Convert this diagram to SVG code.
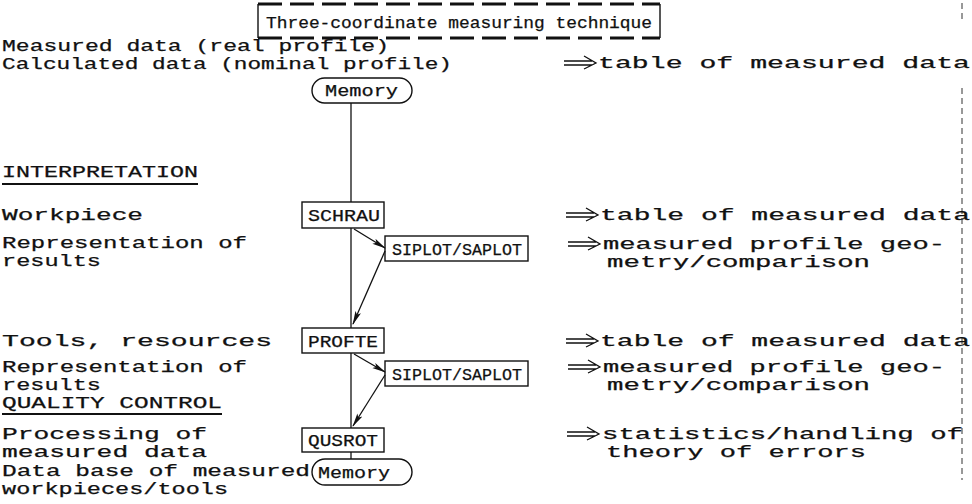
<svg xmlns="http://www.w3.org/2000/svg" width="972" height="504" viewBox="0 0 972 504">
<defs>
<style>
text{font-family:"Liberation Mono","DejaVu Sans Mono",monospace;font-size:16px;fill:#111;stroke:#111;stroke-width:0.25}
.sm{font-size:16px}
.ln{stroke:#111;stroke-width:1.3;fill:none}
.box{stroke:#111;stroke-width:1.4;fill:none}
.ul{stroke:#111;stroke-width:2;fill:none}
.dash{stroke:#111;stroke-width:3;stroke-dasharray:24 8;fill:none}
.rdash{stroke:#333;stroke-width:1;stroke-dasharray:6 4;fill:none}
.dbl{stroke:#111;stroke-width:1.3;fill:none}
</style>
<marker id="ah" viewBox="0 0 14 8" refX="13" refY="4" markerWidth="14" markerHeight="8" markerUnits="userSpaceOnUse" orient="auto">
<path d="M0,1 L14,4 L0,7 L3,4 Z" fill="#111"/>
</marker>
<g id="dblarrow">
<path class="dbl" d="M0,-2 H28 M0,2 H28 M20,-7 L32,0 L20,6"/>
</g>
</defs>
<rect width="972" height="504" fill="#fff"/>

<g id="title">
<path class="dash" d="M258,4 H660"/>
<path class="dash" d="M258,38 H660"/>
<path class="box" d="M258,4 V38 M660,4 V38"/>
<text class="sm" x="266" y="28" textLength="386" lengthAdjust="spacingAndGlyphs">Three-coordinate measuring technique</text>
</g>

<g id="frame-right">
<path class="rdash" d="M962,3 V20"/>
<path class="rdash" d="M962,88 V480"/>
</g>

<g id="left-labels">
<text x="2" y="51" textLength="387" lengthAdjust="spacingAndGlyphs">Measured data (real profile)</text>
<text x="2" y="69" textLength="450" lengthAdjust="spacingAndGlyphs">Calculated data (nominal profile)</text>
<text x="2" y="177" textLength="196" lengthAdjust="spacingAndGlyphs">INTERPRETATION</text>
<path class="ul" d="M2,184 H198"/>
<text x="2" y="220" textLength="141" lengthAdjust="spacingAndGlyphs">Workpiece</text>
<text x="2" y="248" textLength="245" lengthAdjust="spacingAndGlyphs">Representation of</text>
<text x="2" y="266" textLength="99" lengthAdjust="spacingAndGlyphs">results</text>
<text x="2" y="346" textLength="270" lengthAdjust="spacingAndGlyphs">Tools, resources</text>
<text x="2" y="372" textLength="245" lengthAdjust="spacingAndGlyphs">Representation of</text>
<text x="2" y="390" textLength="99" lengthAdjust="spacingAndGlyphs">results</text>
<text x="2" y="408" textLength="220" lengthAdjust="spacingAndGlyphs">QUALITY CONTROL</text>
<path class="ul" d="M2,414 H222"/>
<text x="2" y="439" textLength="205" lengthAdjust="spacingAndGlyphs">Processing of</text>
<text x="2" y="457" textLength="205" lengthAdjust="spacingAndGlyphs">measured data</text>
<text x="2" y="476" textLength="308" lengthAdjust="spacingAndGlyphs">Data base of measured</text>
<text x="2" y="494" textLength="226" lengthAdjust="spacingAndGlyphs">workpieces/tools</text>
</g>

<g id="memory-top">
<rect class="box" x="312" y="78" width="100" height="25" rx="12.5"/>
<text x="325" y="96" textLength="73" lengthAdjust="spacingAndGlyphs">Memory</text>
</g>

<g id="schrau">
<rect class="box" x="302" y="202" width="82" height="26"/>
<text x="308" y="221" textLength="72" lengthAdjust="spacingAndGlyphs">SCHRAU</text>
</g>

<g id="siplot1">
<rect class="box" x="385" y="236" width="143" height="25"/>
<text x="392" y="255" textLength="130" lengthAdjust="spacingAndGlyphs">SIPLOT/SAPLOT</text>
</g>

<g id="profte">
<rect class="box" x="302" y="328" width="82" height="25"/>
<text x="308" y="347" textLength="70" lengthAdjust="spacingAndGlyphs">PROFTE</text>
</g>

<g id="siplot2">
<rect class="box" x="385" y="361" width="143" height="25"/>
<text x="392" y="380" textLength="130" lengthAdjust="spacingAndGlyphs">SIPLOT/SAPLOT</text>
</g>

<g id="qusrot">
<rect class="box" x="302" y="428" width="82" height="24"/>
<text x="308" y="446" textLength="70" lengthAdjust="spacingAndGlyphs">QUSROT</text>
</g>

<g id="memory-bottom">
<rect class="box" x="312" y="459" width="100" height="26" rx="13"/>
<text x="318" y="478" textLength="72" lengthAdjust="spacingAndGlyphs">Memory</text>
</g>

<g id="connectors">
<path class="ln" d="M351,103 V202"/>
<path class="ln" d="M351,228 V328"/>
<path class="ln" d="M354,229 L385,248" marker-end="url(#ah)"/>
<path class="ln" d="M385,251 L353,324" marker-end="url(#ah)"/>
<path class="ln" d="M351,353 V428"/>
<path class="ln" d="M354,354 L385,372" marker-end="url(#ah)"/>
<path class="ln" d="M385,375 L353,426" marker-end="url(#ah)"/>
<path class="ln" d="M351,452 V459"/>
</g>

<g id="right-labels">
<use href="#dblarrow" x="564" y="63"/>
<text x="598" y="68" textLength="372" lengthAdjust="spacingAndGlyphs">table of measured data</text>
<use href="#dblarrow" x="566" y="215"/>
<text x="600" y="220" textLength="370" lengthAdjust="spacingAndGlyphs">table of measured data</text>
<use href="#dblarrow" x="568" y="244"/>
<text x="603" y="249" textLength="342" lengthAdjust="spacingAndGlyphs">measured profile geo-</text>
<text x="607" y="267" textLength="263" lengthAdjust="spacingAndGlyphs">metry/comparison</text>
<use href="#dblarrow" x="566" y="341"/>
<text x="600" y="346" textLength="370" lengthAdjust="spacingAndGlyphs">table of measured data</text>
<use href="#dblarrow" x="568" y="367"/>
<text x="603" y="372" textLength="342" lengthAdjust="spacingAndGlyphs">measured profile geo-</text>
<text x="607" y="390" textLength="263" lengthAdjust="spacingAndGlyphs">metry/comparison</text>
<use href="#dblarrow" x="567" y="434"/>
<text x="602" y="439" textLength="361" lengthAdjust="spacingAndGlyphs">statistics/handling of</text>
<text x="606" y="457" textLength="260" lengthAdjust="spacingAndGlyphs">theory of errors</text>
</g>
</svg>
